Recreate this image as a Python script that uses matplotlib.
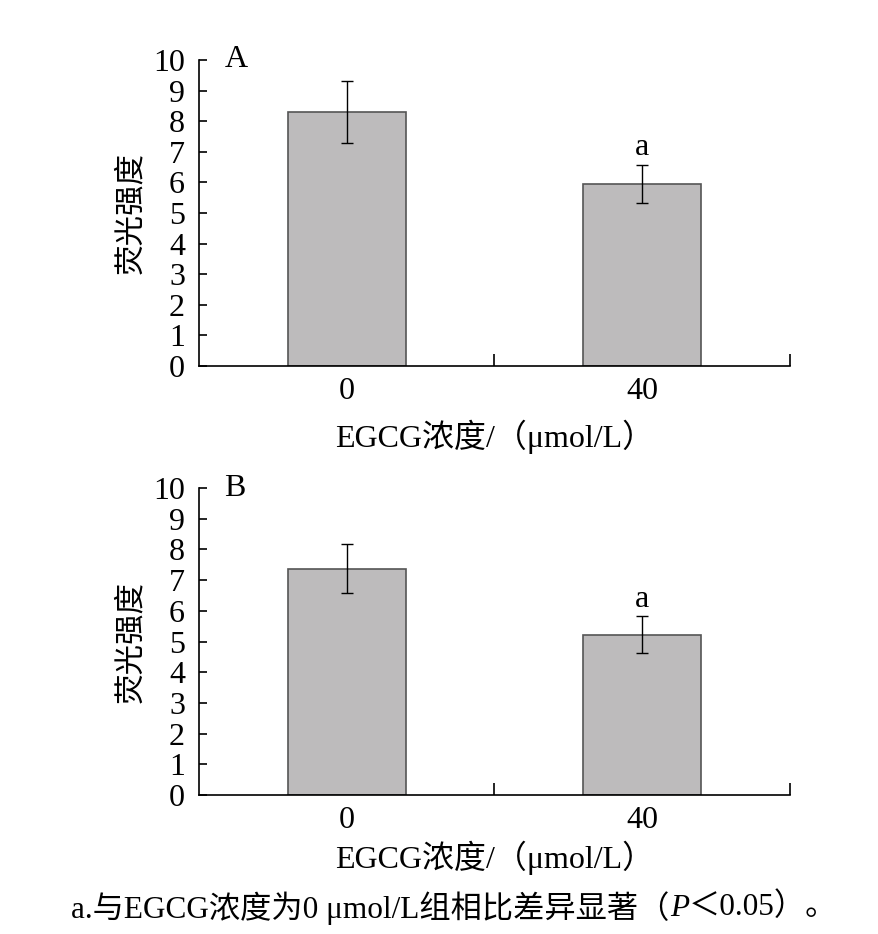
import matplotlib
matplotlib.use("Agg")
import matplotlib.pyplot as plt

# ── Données ──
categories = ["0", "40"]
means_a = [8.3, 5.95]
errs_a = [1.0, 0.63]
means_b = [7.37, 5.22]
errs_b = [0.8, 0.6]
sig_marks = ["", "a"]
y_ticks = list(range(0, 11))

FONT = ["Liberation Serif", "Noto Sans CJK SC"]
plt.rcParams["font.family"] = FONT
plt.rcParams["font.size"] = 22

BAR_COLOR = "#bdbbbc"
EDGE_COLOR = "#555555"


def draw_panel(ax, means, errs, letter, xlabel_pad):
    x = list(range(len(categories)))
    ax.bar(x, means, width=0.4, color=BAR_COLOR, edgecolor=EDGE_COLOR,
           linewidth=1.2, zorder=2)
    ax.errorbar(x, means, yerr=errs, fmt="none", ecolor="black",
                elinewidth=1.0, capsize=4, capthick=1.0, zorder=3)
    for xi, m, e, s in zip(x, means, errs, sig_marks):
        if s:
            ax.text(xi, m + e + 0.08, s, ha="center", va="bottom", fontsize=23)

    ax.set_xlim(-0.5, len(categories) - 0.5)
    ax.set_ylim(0, 10)
    ax.set_yticks(y_ticks)
    ax.tick_params(axis="y", direction="in", length=6, width=1.2, pad=10,
                   labelsize=23)
    # graduations x aux frontières des catégories, étiquettes au centre
    ax.set_xticks([i + 0.5 for i in x])
    ax.set_xticklabels([])
    ax.tick_params(axis="x", which="major", direction="in", length=9, width=1.2)
    ax.set_xticks(x, minor=True)
    ax.set_xticklabels(categories, minor=True)
    ax.tick_params(axis="x", which="minor", length=0, pad=8, labelsize=23)

    for side in ("top", "right"):
        ax.spines[side].set_visible(False)
    for side in ("left", "bottom"):
        ax.spines[side].set_linewidth(1.2)

    ax.set_ylabel("荧光强度", fontsize=22, labelpad=5)
    ax.set_xlabel("EGCG浓度/（μmol/L）", fontsize=23, labelpad=xlabel_pad)
    ax.text(0.043, 1.0, letter, transform=ax.transAxes, ha="left",
            va="center", fontsize=23)


fig = plt.figure(figsize=(8.79, 9.34), dpi=100)
ax_a = fig.add_axes([0.2264, 0.6081, 0.6723, 0.3277])
ax_b = fig.add_axes([0.2264, 0.1488, 0.6723, 0.3287])

draw_panel(ax_a, means_a, errs_a, "A", 10)
draw_panel(ax_b, means_b, errs_b, "B", 4)

# légende du bas, avec P en italique
cap_y = 1 - 908 / 934
t1 = fig.text(0.762, cap_y, "a.与EGCG浓度为0 μmol/L组相比差异显著（",
              ha="right", va="center", fontsize=22.5)
t2 = fig.text(0.762, cap_y, "P", ha="left", va="center", fontsize=22.5,
              style="italic")
t3 = ax_b.annotate("＜0.05）。", xy=(1, 0), xycoords=t2, ha="left",
                   va="bottom", fontsize=22.5, annotation_clip=False)

fig.savefig("out.png", dpi=100)
